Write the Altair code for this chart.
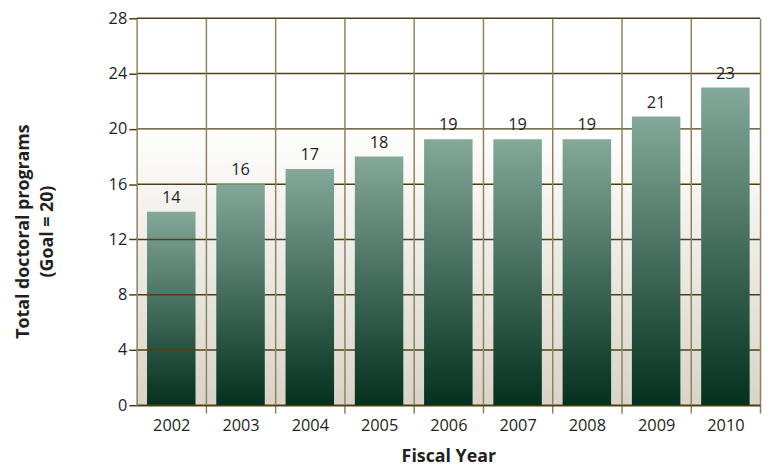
import altair as alt
import pandas as pd

years = ["2002", "2003", "2004", "2005", "2006", "2007", "2008", "2009", "2010"]
heights = [14.0, 16.0, 17.1, 18.0, 19.25, 19.25, 19.25, 20.9, 23.0]
labels = ["14", "16", "17", "18", "19", "19", "19", "21", "23"]
y_ticks = [0, 4, 8, 12, 16, 20, 24, 28]

FONT = "Open Sans"
TEXT = "#231f20"
GRID_H = "#4f3f14"
GRID_V = "#8e8260"

df = pd.DataFrame({"year": years, "value": heights, "label": labels})
grid_df = pd.DataFrame({"value": y_ticks})
bg_df = pd.DataFrame({"value": [max(y_ticks)], "low": [min(y_ticks)]})

W, H = 630, 391
HALF_GAP = 10.5

bar_fill = alt.LinearGradient(
    gradient="linear", x1=0, y1=0, x2=0, y2=1,
    stops=[alt.GradientStop(color="#84a89a", offset=0),
           alt.GradientStop(color="#04301d", offset=1)])
bg_fill = alt.LinearGradient(
    gradient="linear", x1=0, y1=0, x2=0, y2=1,
    stops=[alt.GradientStop(color="#ffffff", offset=0),
           alt.GradientStop(color="#ffffff", offset=0.27),
           alt.GradientStop(color="#d9d4c7", offset=1)])

x_enc = alt.X(
    "year:N", sort=years,
    scale=alt.Scale(paddingInner=0.3, paddingOuter=0.15),
    axis=alt.Axis(
        title="Fiscal Year", labelAngle=0, bandPosition=1,
        tickOffset=HALF_GAP, labelOffset=-HALF_GAP, zindex=1,
        grid=True, gridColor=GRID_V, gridWidth=1.5,
        tickColor=GRID_V, tickWidth=1.5, tickSize=8,
        domainColor=GRID_H, domainWidth=1.5,
        labelFont=FONT, labelFontSize=16.5, labelColor=TEXT, labelPadding=5,
        titleFont=FONT, titleFontSize=18, titleFontWeight="bold", titleColor=TEXT,
        titleX=315, titleY=57, titleBaseline="alphabetic", titleAlign="center"))

y_enc = alt.Y(
    "value:Q",
    scale=alt.Scale(domain=[0, 28], nice=False, zero=True),
    axis=alt.Axis(
        values=y_ticks, grid=False, zindex=1,
        domain=True, domainColor=GRID_V, domainWidth=1.5,
        tickColor=GRID_H, tickWidth=1.5, tickSize=8,
        labelFont=FONT, labelFontSize=16.5, labelColor=TEXT, labelPadding=2,
        title=["Total doctoral programs", "(Goal = 20)"],
        titleFont=FONT, titleFontSize=18, titleFontWeight="bold", titleColor=TEXT,
        titleX=-123, titleY=215, titleBaseline="top", titleAlign="center",
        titleLineHeight=24))

background = alt.Chart(bg_df).mark_rect(fill=bg_fill).encode(y=y_enc, y2="low:Q")

bars_first = alt.Chart(df).transform_filter(alt.datum.year == years[0]).mark_bar(
    fill=bar_fill).encode(x=x_enc, y=y_enc)

hgrid = alt.Chart(grid_df).mark_rule(color=GRID_H, strokeWidth=1.5).encode(y=y_enc)

bars_rest = alt.Chart(df).transform_filter(alt.datum.year != years[0]).mark_bar(
    fill=bar_fill).encode(x=x_enc, y=y_enc)

text = alt.Chart(df).mark_text(
    baseline="bottom", dy=-6, fontSize=16.5, font=FONT, color=TEXT
).encode(x=x_enc, y=y_enc, text="label:N")

chart = alt.layer(background, bars_first, hgrid, bars_rest, text).properties(
    width=W, height=H,
    autosize=alt.AutoSizeParams(type="none"),
    padding={"left": 130, "top": 8, "right": 4, "bottom": 61},
).configure_view(stroke="transparent")

chart.save("out.html", embed_options={"renderer": "svg", "actions": False})
